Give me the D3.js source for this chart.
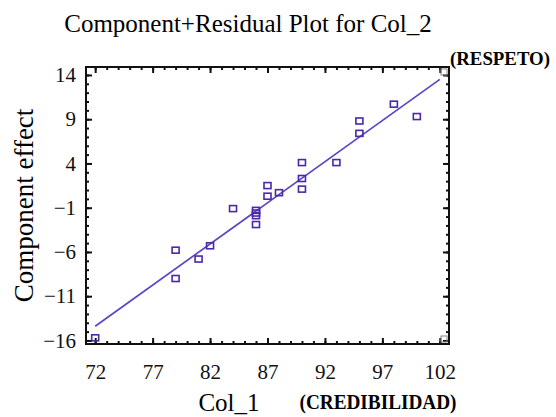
<!DOCTYPE html>
<html>
<head>
<meta charset="utf-8">
<script src="https://cdn.jsdelivr.net/npm/d3@7"></script>
<style>
  body { margin: 0; background: #fff; }
  text { font-family: "Liberation Serif", "DejaVu Serif", serif; }
</style>
</head>
<body>
<svg id="chart" width="556" height="417"></svg>
<script>
// values
var colX = [72, 79, 79, 81, 82, 84, 86, 86, 86, 86, 87, 87, 88, 90, 90, 90, 93, 95, 95, 98, 100];
var effect = [-15.7, -5.8, -9.0, -6.8, -5.3, -1.1, -1.3, -1.6, -1.9, -2.9, 1.5, 0.3, 0.7, 4.1, 2.3, 1.1, 4.1, 8.8, 7.4, 10.7, 9.3];
var fitX = [72, 102];
var fitY = [-14.4, 13.5];
var xTicks = [72, 77, 82, 87, 92, 97, 102];
var yTicks = [14, 9, 4, -1, -6, -11, -16];

var svg = d3.select("#chart");
var pLeft = 86, pRight = 449, pTop = 67, pBottom = 344;

var scX = d3.scaleLinear().domain([71.2, 102.8]).range([pLeft, pRight]);
var scY = d3.scaleLinear().domain([-16.4, 14.9]).range([pBottom, pTop]);

var data = colX.map((d, i) => [d, effect[i]]);

// title
svg.append("text")
    .attr("x", 248).attr("y", 32)
    .attr("text-anchor", "middle")
    .style("font-size", "25px")
    .text("Component+Residual Plot for Col_2");

// minor ticks (every unit), inward, on all four sides
var xMinor = d3.range(72, 103);
var yMinor = d3.range(-16, 15);
svg.append("g").attr("transform", "translate(0," + pBottom + ")")
    .call(d3.axisBottom(scX).tickValues(xMinor).tickSize(-3).tickFormat(""));
svg.append("g").attr("transform", "translate(0," + pTop + ")")
    .call(d3.axisTop(scX).tickValues(xMinor).tickSize(-3).tickFormat(""));
svg.append("g").attr("transform", "translate(" + pLeft + ",0)")
    .call(d3.axisLeft(scY).tickValues(yMinor).tickSize(-3).tickFormat(""));
svg.append("g").attr("transform", "translate(" + pRight + ",0)")
    .call(d3.axisRight(scY).tickValues(yMinor).tickSize(-3).tickFormat(""));

// major ticks with labels
var xAxis = svg.append("g").attr("transform", "translate(0," + pBottom + ")")
    .call(d3.axisBottom(scX).tickValues(xTicks).tickSize(-6).tickPadding(20));
var yAxis = svg.append("g").attr("transform", "translate(" + pLeft + ",0)")
    .call(d3.axisLeft(scY).tickValues(yTicks).tickSize(-6).tickPadding(10));
svg.append("g").attr("transform", "translate(0," + pTop + ")")
    .call(d3.axisTop(scX).tickValues(xTicks).tickSize(-6).tickFormat(""));
svg.append("g").attr("transform", "translate(" + pRight + ",0)")
    .call(d3.axisRight(scY).tickValues(yTicks).tickSize(-6).tickFormat(""));

svg.selectAll(".domain").remove();
svg.selectAll(".tick line").attr("stroke", "#111").attr("stroke-width", 2);
[xAxis, yAxis].forEach(a => a.selectAll("text")
    .attr("fill", "#111")
    .style("font-family", "'Liberation Serif', serif")
    .style("font-size", "21px"));

// frame
svg.append("rect")
    .attr("x", pLeft).attr("y", pTop)
    .attr("width", pRight - pLeft).attr("height", pBottom - pTop)
    .attr("fill", "none").attr("stroke", "#111").attr("stroke-width", 2);

// little corner squares
[[102.8, 14.9], [102.8, -16.4]].forEach(c => {
    svg.append("rect")
        .attr("x", scX(c[0]) - 8).attr("y", c[1] > 0 ? scY(c[1]) + 2 : scY(c[1]) - 8)
        .attr("width", 6).attr("height", 6)
        .attr("fill", "none").attr("stroke", "#888").attr("stroke-width", 1);
});

// fitted line
var lineMaker = d3.line().x(d => scX(d[0])).y(d => scY(d[1]));
svg.append("path")
    .attr("d", lineMaker(fitX.map((d, i) => [d, fitY[i]])))
    .attr("fill", "none").attr("stroke", "#5a46c6").attr("stroke-width", 1.7);

// points
svg.append("g").selectAll("rect")
    .data(data).enter().append("rect")
    .attr("x", d => scX(d[0]) - 3.5)
    .attr("y", d => scY(d[1]) - 3)
    .attr("width", 7).attr("height", 6)
    .attr("fill", "none").attr("stroke", "#4a28a8").attr("stroke-width", 1.6);

// axis titles
svg.append("text")
    .attr("transform", "translate(33," + ((pTop + pBottom) / 2) + ") rotate(-90)")
    .attr("text-anchor", "middle")
    .style("font-size", "27px")
    .text("Component effect");

svg.append("text")
    .attr("x", 229).attr("y", 411)
    .attr("text-anchor", "middle")
    .style("font-size", "25px")
    .text("Col_1");

svg.append("text")
    .attr("x", 378).attr("y", 409)
    .attr("text-anchor", "middle")
    .style("font-size", "22px").style("font-weight", "bold")
    .attr("textLength", 157).attr("lengthAdjust", "spacingAndGlyphs")
    .text("(CREDIBILIDAD)");

svg.append("text")
    .attr("x", 500).attr("y", 65)
    .attr("text-anchor", "middle")
    .style("font-size", "19px").style("font-weight", "bold")
    .attr("textLength", 100).attr("lengthAdjust", "spacingAndGlyphs")
    .text("(RESPETO)");
</script>
</body>
</html>
